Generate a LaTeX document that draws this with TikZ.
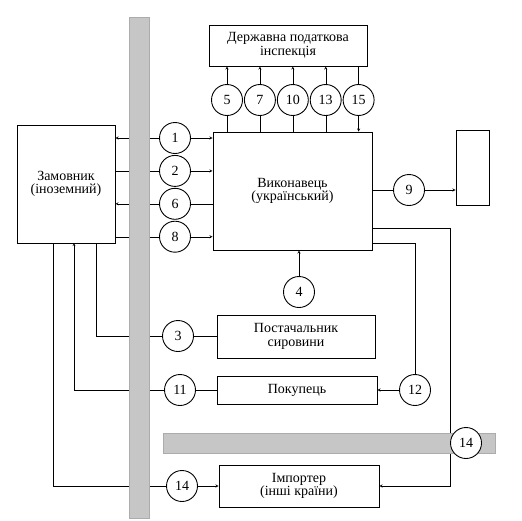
\documentclass[tikz,border=0pt]{standalone}
\usepackage{fontspec}
\setmainfont{Liberation Serif}
\usetikzlibrary{positioning}
\pgfdeclarelayer{lines}
\pgfdeclarelayer{bars}
\pgfsetlayers{lines,bars,main}

\begin{document}
\begin{tikzpicture}[x=1pt, y=-1pt, node distance=1pt, >=stealth, line width=.9pt,
    font=\fontsize{14}{13.5}\selectfont]
        \tikzstyle{bx} = [draw, fill=white, inner sep=0pt, align=center]
        \tikzstyle{nc} = [draw, circle, fill=white, minimum size=31pt, inner sep=0pt]
        \tikzstyle{br} = [fill=gray!45, draw=gray!65, line width=.5pt]
    \useasboundingbox (0,0) rectangle (522,520);

    % boxes
    \node[bx, minimum width=98pt, minimum height=118pt] (Z) at (66,184) {Замовник\\(іноземний)};
    \node[bx, minimum width=159pt, minimum height=118pt] (V) at (292.5,191) {Виконавець\\(український)};
    \node[bx, minimum width=158pt, minimum height=41pt] (D) at (288,45.5) {Державна податкова\\інспекція};
    \node[bx, minimum width=33pt, minimum height=75pt] (R) at (472.5,167.5) {};
    \node[bx, minimum width=158pt, minimum height=43pt] (P) at (296,336.5) {Постачальник\\сировини};
    \node[bx, minimum width=160pt, minimum height=28pt] (K) at (297,390) {Покупець};
    \node[bx, minimum width=160pt, minimum height=42pt] (I) at (299,486) {Імпортер\\(інші країни)};

    % circles
    \node[nc] (c1) at (175,138) {1};
    \node[nc, below=of c1] (c2) {2};
    \node[nc, below=of c2] (c6) {6};
    \node[nc, below=of c6] (c8) {8};
    \node[nc] (c5) at (227,100) {5};
    \node[nc, right=of c5] (c7) {7};
    \node[nc, right=of c7] (c10) {10};
    \node[nc, right=of c10] (c13) {13};
    \node[nc, right=of c13] (c15) {15};
    \node[nc] (c9) at (409,190) {9};
    \node[nc] (c4) at (299,292) {4};
    \node[nc] (c3) at (178,336) {3};
    \node[nc] (c11) at (180,390) {11};
    \node[nc] (c12) at (415,390) {12};
    \node[nc] (c14a) at (466,443) {14};
    \node[nc] (c14b) at (182,486) {14};

    \coordinate (z3) at (96,243);
    \coordinate (z11) at (74,243);
    \coordinate (z14) at (53,243);
    \coordinate (v12) at (372,243);
    \coordinate (v14) at (372,228);
    \coordinate (k14) at (450,486);

    \begin{pgfonlayer}{bars}
        \filldraw[br] (129,17) rectangle (149,518);
        \filldraw[br] (163,433) rectangle (495,453);
    \end{pgfonlayer}

    \begin{pgfonlayer}{lines}
        \draw[->] (c1.west) -- (c1.west -| Z.east);
        \draw[->] (c1.east) -- (c1.east -| V.west);
        \draw (c2.west -| Z.east) -- (c2.west);
        \draw[->] (c2.east) -- (c2.east -| V.west);
        \draw[->] (c6.west) -- (c6.west -| Z.east);
        \draw (c6.east) -- (c6.east -| V.west);
        \draw (c8.west -| Z.east) -- (c8.west);
        \draw[->] (c8.east) -- (c8.east -| V.west);
        \foreach \n in {5,7,10,13} {
            \draw (c\n |- V.north) -- (c\n.south);
            \draw[->] (c\n.north) -- (c\n |- D.south);
        }
        \draw (c15 |- D.south) -- (c15.north);
        \draw[->] (c15.south) -- (c15 |- V.north);
        \draw (c9 -| V.east) -- (c9.west);
        \draw[->] (c9.east) -- (c9 -| R.west);
        \draw[->] (c4.north) -- (c4 |- V.south);
        \draw (c3.east) -- (c3 -| P.west);
        \draw (c3.west) -| (z3);
        \draw (c11.east) -- (c11 -| K.west);
        \draw[->] (c11.west) -| (z11);
        \draw (v12) -| (c12.north);
        \draw[->] (c12.west) -- (c12 -| K.east);
        \draw[->] (v14) -| (k14) -- (k14 -| I.east);
        \draw[->] (c14b.east) -- (c14b -| I.west);
        \draw (c14b.west) -| (z14);
    \end{pgfonlayer}
\end{tikzpicture}
\end{document}
